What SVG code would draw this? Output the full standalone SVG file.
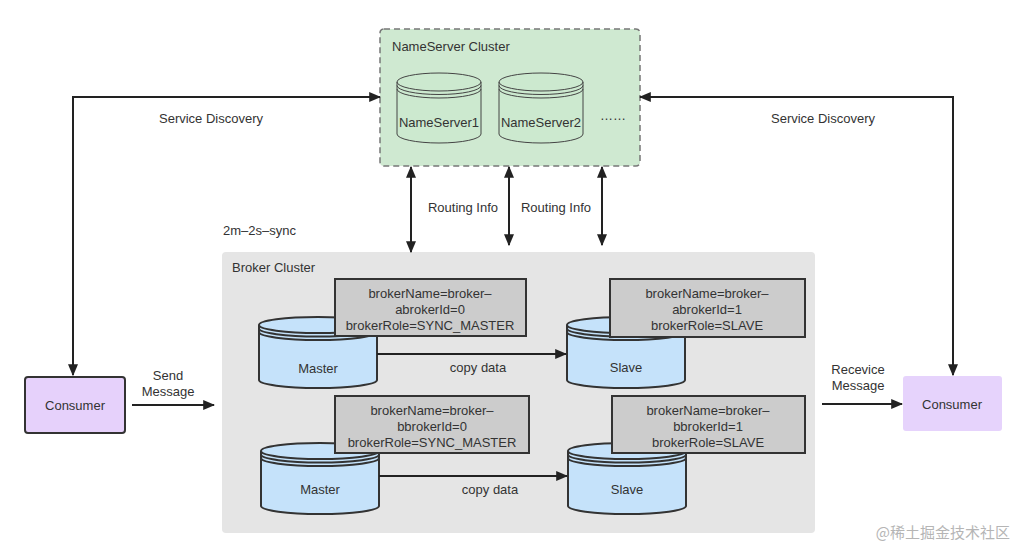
<svg xmlns="http://www.w3.org/2000/svg" width="1028" height="560" viewBox="0 0 1028 560">
<defs>
<style>
text{font-family:"Liberation Sans",Arial,sans-serif;font-size:13px;fill:#333}
.c{text-anchor:middle}
.ln{fill:none;stroke:#222;stroke-width:2}
.lbl{fill:#cccccc;stroke:#333;stroke-width:2}
.bcyl{fill:#c5e2fa;stroke:#333;stroke-width:2}
.ncyl{fill:#cce9cf;stroke:#444;stroke-width:1}
</style>
<marker id="ah" viewBox="0 0 10 10" refX="9" refY="5" markerWidth="6" markerHeight="5" orient="auto-start-reverse" markerUnits="strokeWidth" preserveAspectRatio="none">
<path d="M0,0 L10,5 L0,10 z" fill="#222"/>
</marker>
<g id="bcyl">
<path d="M0,8 L0,63 A59,8 0 0 0 118,63 L118,8 A59,8 0 0 0 0,8 z"/>
<path d="M0,8 A59,8 0 0 0 118,8" fill="none"/>
<path d="M0,11.5 A59,8 0 0 0 118,11.5" fill="none"/>
<path d="M0,15 A59,8 0 0 0 118,15" fill="none"/>
</g>
<g id="ncyl">
<path d="M0,9 L0,61 A42,9 0 0 0 84,61 L84,9 A42,9 0 0 0 0,9 z"/>
<path d="M0,9 A42,9 0 0 0 84,9" fill="none"/>
<path d="M0,12.5 A42,9 0 0 0 84,12.5" fill="none"/>
<path d="M0,16 A42,9 0 0 0 84,16" fill="none"/>
</g>
</defs>
<rect width="1028" height="560" fill="#ffffff"/>

<g id="nameserver-cluster">
<rect x="380" y="29" width="260" height="137" rx="4" fill="#cfe9d1" stroke="#777" stroke-width="1.5" stroke-dasharray="6,4"/>
<text x="392" y="51">NameServer Cluster</text>
</g>
<g id="nameserver1">
<use href="#ncyl" x="397" y="73" class="ncyl"/>
<text x="439" y="127" class="c">NameServer1</text>
</g>
<g id="nameserver2">
<use href="#ncyl" x="499" y="73" class="ncyl"/>
<text x="541" y="127" class="c">NameServer2</text>
</g>
<text x="613" y="120" class="c">……</text>

<text x="223" y="235">2m–2s–sync</text>

<g id="broker-cluster">
<rect x="222" y="252" width="593" height="281" rx="4" fill="#e5e5e5"/>
<text x="232" y="272">Broker Cluster</text>
</g>

<g id="master-a">
<use href="#bcyl" x="259" y="317" class="bcyl"/>
<text x="318" y="373" class="c">Master</text>
<rect x="335" y="279" width="191" height="57" class="lbl"/>
<text x="430" y="298" class="c">brokerName=broker–</text>
<text x="430" y="314" class="c">abrokerId=0</text>
<text x="430" y="330" class="c">brokerRole=SYNC_MASTER</text>
</g>
<g id="slave-a">
<use href="#bcyl" x="567" y="317" class="bcyl"/>
<text x="626" y="372" class="c">Slave</text>
<rect x="610" y="279" width="195" height="58" class="lbl"/>
<text x="707" y="298" class="c">brokerName=broker–</text>
<text x="707" y="314" class="c">abrokerId=1</text>
<text x="707" y="330" class="c">brokerRole=SLAVE</text>
</g>
<g id="master-b">
<use href="#bcyl" x="261" y="443" class="bcyl"/>
<text x="320" y="494" class="c">Master</text>
<rect x="335" y="396" width="194" height="57" class="lbl"/>
<text x="432" y="415" class="c">brokerName=broker–</text>
<text x="432" y="431" class="c">bbrokerId=0</text>
<text x="432" y="447" class="c">brokerRole=SYNC_MASTER</text>
</g>
<g id="slave-b">
<use href="#bcyl" x="568" y="443" class="bcyl"/>
<text x="627" y="494" class="c">Slave</text>
<rect x="612" y="396" width="193" height="57" class="lbl"/>
<text x="708" y="415" class="c">brokerName=broker–</text>
<text x="708" y="431" class="c">bbrokerId=1</text>
<text x="708" y="447" class="c">brokerRole=SLAVE</text>
</g>

<g id="consumer-left">
<rect x="25" y="377" width="100" height="56" rx="3" fill="#e6d1fb" stroke="#333" stroke-width="2"/>
<text x="75" y="410" class="c">Consumer</text>
</g>
<g id="consumer-right">
<rect x="903" y="376" width="99" height="55" rx="3" fill="#e6d3fc"/>
<text x="952" y="409" class="c">Consumer</text>
</g>

<g id="connectors">
<path class="ln" d="M73,375 L73,97 L380,97" marker-start="url(#ah)" marker-end="url(#ah)"/>
<path class="ln" d="M953,375 L953,97 L640,97" marker-start="url(#ah)" marker-end="url(#ah)"/>
<path class="ln" d="M411,167 L411,252" marker-start="url(#ah)" marker-end="url(#ah)"/>
<path class="ln" d="M509,167 L509,245" marker-start="url(#ah)" marker-end="url(#ah)"/>
<path class="ln" d="M602,167 L602,245" marker-start="url(#ah)" marker-end="url(#ah)"/>
<path class="ln" d="M377,354 L566,354" marker-end="url(#ah)"/>
<path class="ln" d="M379,476 L567,476" marker-end="url(#ah)"/>
<path class="ln" d="M132,405 L214,405" marker-end="url(#ah)"/>
<path class="ln" d="M822,404 L902,404" marker-end="url(#ah)"/>
</g>

<text x="211" y="123" class="c">Service Discovery</text>
<text x="823" y="123" class="c">Service Discovery</text>
<text x="463" y="212" class="c">Routing Info</text>
<text x="556" y="212" class="c">Routing Info</text>
<text x="478" y="372" class="c">copy data</text>
<text x="490" y="494" class="c">copy data</text>
<text x="168" y="380" class="c">Send</text>
<text x="168" y="396" class="c">Message</text>
<text x="858" y="374" class="c">Recevice</text>
<text x="858" y="390" class="c">Message</text>
<text x="1010" y="538" style="font-family:'Noto Sans CJK SC',sans-serif;font-size:15px;fill:#b5b5b5;text-anchor:end">@稀土掘金技术社区</text>
</svg>
